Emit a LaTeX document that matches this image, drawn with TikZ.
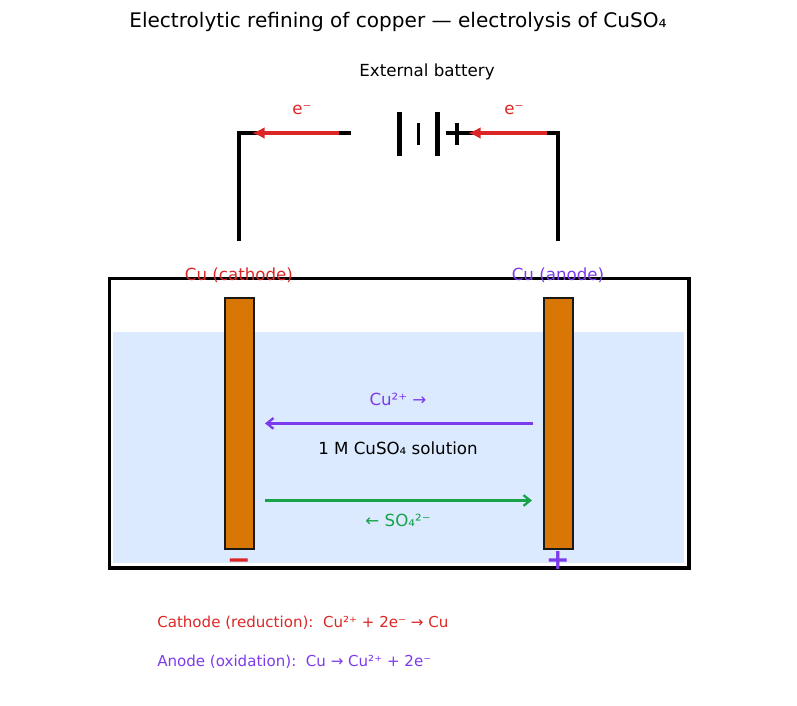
\documentclass[tikz,border=0pt]{standalone}
\usepackage{fontspec}
\setmainfont{DejaVu Sans}
\usetikzlibrary{arrows.meta}

\definecolor{cathodered}{HTML}{DC2626}
\definecolor{anodepurple}{HTML}{7C3AED}
\definecolor{ionsgreen}{HTML}{16A34A}
\definecolor{solutionblue}{HTML}{DBEAFE}
\definecolor{copperfill}{HTML}{D97706}

\tikzset{
	wire/.style={line width=2.5pt},
	flow/.style={line width=2.5pt,cathodered,-{Latex[length=9.5pt,width=9pt]}},
	ion/.style={line width=1.7pt,-{Straight Barb[length=5pt,width=8pt]}},
	electrode/.style={draw=black!90,line width=1.15pt,fill=copperfill,minimum width=28.5*0.75pt,minimum height=250.5*0.75pt,inner sep=0pt},
	label/.style={font=\fontsize{12.5}{15}\selectfont},
	small/.style={font=\fontsize{11.3}{13}\selectfont},
}

\begin{document}
\begin{tikzpicture}[x=0.75pt,y=-0.75pt]
	\useasboundingbox (0,0) rectangle (797,706);

	%tank and solution
	\fill[solutionblue] (113,332) rectangle (684,563);
	\draw[line width=2.4pt] (109.5,278.5) rectangle (689,568);

	%electrodes
	\node[electrode] (cathode) at (239.5,423.5) {};
	\node[electrode] (anode)   at (558.5,423.5) {};

	%corners and ends of the circuit
	\coordinate (cathodetop) at (239,241);
	\coordinate (cathodecorner) at (239,133);
	\coordinate (batleft) at (351,133);
	\coordinate (anodetop) at (558,241);
	\coordinate (anodecorner) at (558,133);
	\coordinate (batright) at (446,133);

	%circuit
	\draw[wire] (cathodetop)--(cathodecorner)--(batleft);
	\draw[wire] (anodetop)--(anodecorner)--(batright);

	%battery
	\coordinate (plateAa) at (399.5,112);
	\coordinate (plateAb) at (399.5,156);
	\coordinate (plateBa) at (418,123);
	\coordinate (plateBb) at (418,145);
	\coordinate (plateCa) at (437.5,112);
	\coordinate (plateCb) at (437.5,156);
	\coordinate (plusa) at (457,123);
	\coordinate (plusb) at (457,145);
	\draw[line width=3.6pt] (plateAa)--(plateAb);
	\draw[line width=2.25pt] (plateBa)--(plateBb);
	\draw[line width=3.6pt] (plateCa)--(plateCb);
	\draw[line width=2.5pt] (plusa)--(plusb);

	%electron flow
	\coordinate (flowAa) at (339,133);
	\coordinate (flowAb) at (252,133);
	\coordinate (flowBa) at (547,133);
	\coordinate (flowBb) at (468,133);
	\draw[flow] (flowAa)--(flowAb);
	\draw[flow] (flowBa)--(flowBb);

	%ion flow
	\coordinate (curight) at (533,423.4);
	\coordinate (culeft)  at (265,423.4);
	\coordinate (soleft)  at (265,500.5);
	\coordinate (soright) at (532,500.5);
	\draw[ion,anodepurple] (curight)--(culeft);
	\draw[ion,ionsgreen] (soleft)--(soright);

	%upper labels
	\node[font=\fontsize{15.05}{18}\selectfont] (title) at (398,22) {Electrolytic refining of copper — electrolysis of CuSO₄};
	\node[label] (battery) at (427,72) {External battery};
	\node[label,cathodered] (eleft)  at (302,110) {e⁻};
	\node[label,cathodered] (eright) at (514,110) {e⁻};
	\node[label,cathodered] (cathodename) at (239,275) {Cu (cathode)};
	\node[label,anodepurple] (anodename)  at (558,275) {Cu (anode)};

	%tank labels
	\node[label,anodepurple] (cuion) at (398,399.5) {Cu²⁺ →};
	\node[label] (solution) at (398,448.5) {1 M CuSO₄ solution};
	\node[label,ionsgreen] (soion) at (398,520.5) {← SO₄²⁻};
	\node[font=\fontsize{21.5}{25}\bfseries\selectfont,cathodered] (minus) at (239,564) {−};
	\node[font=\fontsize{21.5}{25}\bfseries\selectfont,anodepurple] (plus) at (558,561) {+};

	%lower labels
	\node[small,cathodered,anchor=west,inner sep=0pt] (reduction) at (157,622.5) {Cathode (reduction):\ \ Cu²⁺ + 2e⁻ → Cu};
	\node[small,anodepurple,anchor=west,inner sep=0pt] (oxidation) at (157,661.5) {Anode (oxidation):\ \ Cu → Cu²⁺ + 2e⁻};
\end{tikzpicture}
\end{document}
